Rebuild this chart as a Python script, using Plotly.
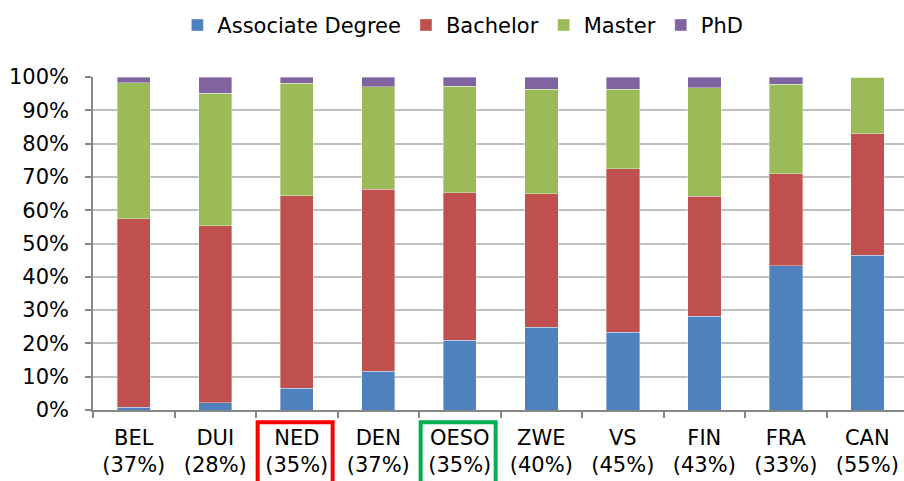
import plotly.graph_objects as go

categories = ["BEL", "DUI", "NED", "DEN", "OESO", "ZWE", "VS", "FIN", "FRA", "CAN"]
shares = ["37%", "28%", "35%", "37%", "35%", "40%", "45%", "43%", "33%", "55%"]
associate = [0.8, 2.2, 6.5, 11.6, 20.9, 24.9, 23.4, 28.1, 43.3, 46.5]
bachelor = [56.6, 53.1, 57.9, 54.7, 44.3, 40.1, 49.1, 36.1, 27.6, 36.4]
master = [40.9, 39.8, 33.7, 30.7, 32.0, 31.3, 23.8, 32.5, 26.9, 17.1]
phd = [1.7, 4.9, 1.9, 3.0, 2.8, 3.7, 3.7, 3.3, 2.2, 0.0]

series = [
    ("Associate Degree", associate, "#4F81BD"),
    ("Bachelor", bachelor, "#C0504D"),
    ("Master", master, "#9BBB59"),
    ("PhD", phd, "#8064A2"),
]

labels = [f"{c}<br>({s})" for c, s in zip(categories, shares)]

fig = go.Figure()
for name, vals, col in series:
    fig.add_trace(go.Bar(
        x=labels, y=[v / 100 for v in vals], name=name,
        marker=dict(color=col, line=dict(color="rgba(255,255,255,0.6)", width=0.6)),
        width=0.41,
    ))

font = "DejaVu Sans, Verdana, sans-serif"
fig.update_layout(
    barmode="stack",
    width=904, height=481,
    margin=dict(l=93, r=0, t=77, b=71, autoexpand=False),
    paper_bgcolor="white", plot_bgcolor="white",
    font=dict(family=font, size=21, color="#000000"),
    showlegend=True,
    legend=dict(orientation="h", xref="container", yref="container",
                x=0.512, xanchor="center", y=0.99, yanchor="top",
                font=dict(size=21), traceorder="normal",
                itemwidth=30, tracegroupgap=0),
    xaxis=dict(type="category", range=[-0.5, 9.45], automargin=False,
               showline=True, linecolor="#868686", linewidth=1.5,
               ticks="outside", tickson="boundaries", ticklen=6,
               tickcolor="#868686", tickwidth=1.5, ticklabelstandoff=8,
               tickfont=dict(size=21), showgrid=False),
    yaxis=dict(range=[0, 1], tickformat=".0%", dtick=0.1, automargin=False,
               showline=True, linecolor="#868686", linewidth=1.5,
               ticks="outside", ticklen=6, tickcolor="#868686", tickwidth=1.5,
               ticklabelstandoff=12,
               showgrid=True, gridcolor="#C0C0C0", gridwidth=1.5,
               tickfont=dict(size=21), zeroline=False),
)

for idx, col in [(2, "#FF0000"), (4, "#00B050")]:
    fig.add_shape(type="rect", xref="x", yref="paper",
                  x0=idx - 0.48, x1=idx + 0.44, y0=-0.24, y1=-0.037,
                  line=dict(color=col, width=4), fillcolor="rgba(0,0,0,0)")

fig.write_html("out.html", config={"displayModeBar": False},
               post_script="document.body.style.margin='0';document.body.style.padding='0';")
